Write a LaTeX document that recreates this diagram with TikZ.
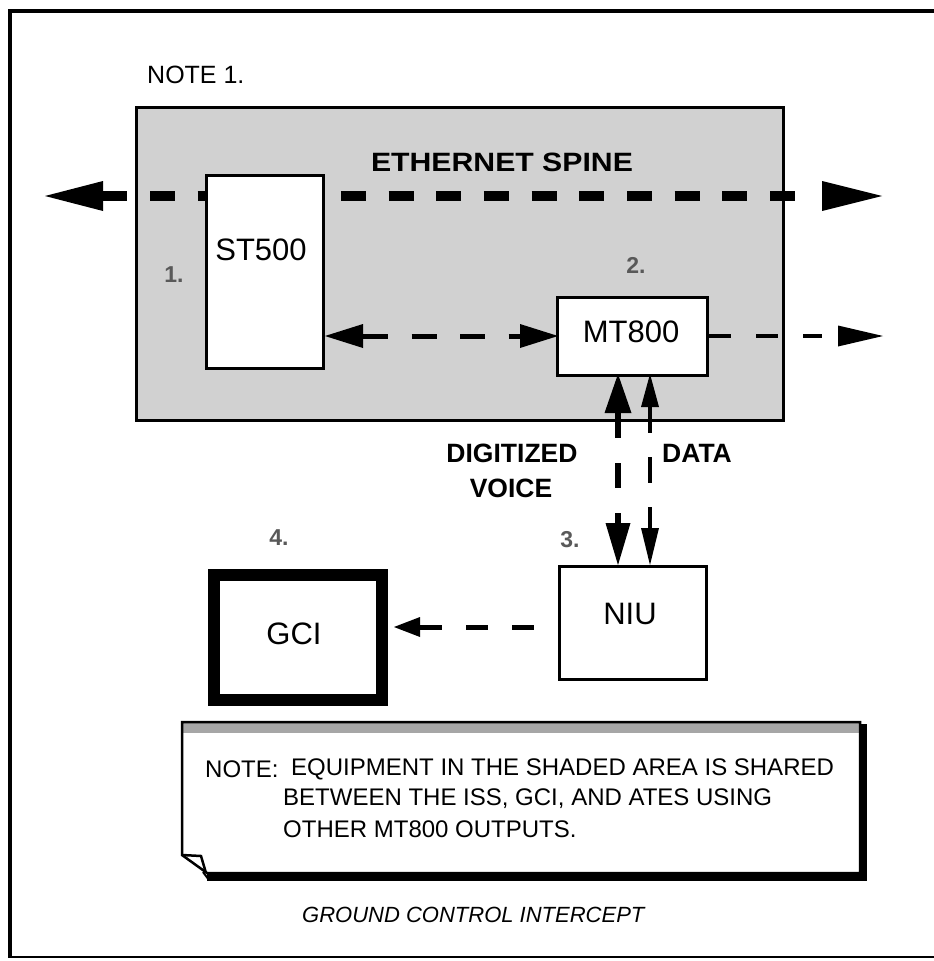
\documentclass[tikz,border=0pt]{standalone}
\usepackage{fontspec}
\setmainfont{Liberation Sans}
\usetikzlibrary{calc}
\begin{document}
\begin{tikzpicture}[x=1pt,y=-1pt,
  boxline/.style={draw=black,line width=3pt,fill=white},
  lbl/.style={inner sep=0pt,font=\fontsize{25}{28}\selectfont},
  blk/.style={inner sep=0pt,font=\fontsize{31}{34}\selectfont},
  bold/.style={inner sep=0pt,font=\fontsize{26.5}{30}\selectfont\bfseries},
  num/.style={inner sep=0pt,text=black!65,font=\fontsize{23}{25}\selectfont\bfseries},
  notetxt/.style={inner sep=0pt,anchor=west,font=\fontsize{24}{26}\selectfont},
  head/.style={fill=black},
]
\useasboundingbox (0,0) rectangle (934,961);
\fill[white] (0,0) rectangle (934,961);
% outer frame
\draw[line width=4pt] (934,11) -- (10,11) -- (10,958);
\draw[line width=2.5pt] (10,957) -- (934,957);

% shaded area
\node[draw=black,line width=3pt,fill=black!18,minimum width=647pt,minimum height=313pt,inner sep=0pt,anchor=north west] (shade) at (135,106) {};
\node[lbl,anchor=west] (note1) at (147,75) {NOTE 1.};
\node[bold] (eth) at (502,162) {\scalebox{1.14}[1]{ETHERNET SPINE}};

% ethernet spine
\coordinate (ethA) at (150,196);
\coordinate (ethB) at (798,196);
\draw[line width=10pt,dash pattern=on 25pt off 22.7pt] (ethA) -- (ethB);
\draw[line width=10pt] (103,196) -- (127,196);
\fill[head] (45,196) -- (103,181) -- (103,211) -- cycle;
\fill[head] (822,181) -- (882,196) -- (822,211) -- cycle;

% ST500
\node[boxline,minimum width=117pt,minimum height=193pt,anchor=north west] (st) at (205,174) {};
\node[blk] (sttxt) at (261,250) {ST500};
\node[num] (n1) at (174,275) {1.};

% MT800
\node[boxline,minimum width=150pt,minimum height=78pt,anchor=north west] (mt) at (556,296) {};
\node[blk] (mttxt) at (631,332) {MT800};
\node[num] (n2) at (636,265) {2.};

% ST500 <-> MT800
\coordinate (smA) at (363,336);
\coordinate (smB) at (520,336);
\draw[line width=5pt,dash pattern=on 25pt off 23.5pt] (smA) -- (smB);
\fill[head] (st.east |- smA) -- (363,324) -- (363,348) -- cycle;
\fill[head] (558,336) -- (520,324) -- (520,348) -- cycle;

% MT800 output
\coordinate (moA) at (mt.east |- smA);
\coordinate (moB) at (822,336);
\draw[line width=4pt,dash pattern=on 22pt off 25pt] (moA) -- (moB);
\fill[head] (838,325.5) -- (883,336) -- (838,346.5) -- cycle;

% NIU
\node[boxline,minimum width=147pt,minimum height=113pt,anchor=north west] (niu) at (558,565) {};
\node[blk] (niutxt) at (630,614) {NIU};
\node[num] (n3) at (570,540) {3.};

% GCI
\node[draw=black,line width=12pt,fill=white,minimum width=168pt,minimum height=125pt,inner sep=0pt,anchor=north west] (gci) at (208,569) {};
\node[blk] (gcitxt) at (294,634) {GCI};
\node[num] (n4) at (279,538) {4.};

% digitized voice vertical
\coordinate (vA) at (618,413);
\coordinate (vB) at (618,523);
\draw[line width=6pt,dash pattern=on 25pt off 25pt] (vA) -- (vB);
\fill[head] (618,374) -- (631.5,413) -- (604.5,413) -- cycle;
\fill[head] (618,565) -- (630.5,523) -- (605.5,523) -- cycle;

% data vertical
\coordinate (dA) at (650,407);
\coordinate (dB) at (650,528);
\draw[line width=3.5pt,dash pattern=on 26pt off 24pt] (dA) -- (dB);
\fill[head] (650,374) -- (659,407) -- (641,407) -- cycle;
\fill[head] (650,565) -- (659,528) -- (641,528) -- cycle;

\node[bold] (dig) at (512,453) {DIGITIZED};
\node[bold] (voice) at (511,488) {VOICE};
\node[bold,anchor=west] (data) at (662,453) {DATA};

% NIU -> GCI
\coordinate (ngA) at (420,627);
\coordinate (ngB) at (537,627);
\draw[line width=5pt,dash pattern=on 22pt off 24pt] (ngA) -- (ngB);
\fill[head] (gci.east |- ngA) ++(6,0) -- (420,617) -- (420,637) -- cycle;

% note box
\fill[white] (182,722) -- (860,722) -- (860,873) -- (207,873) -- (182,855) -- cycle;
\fill[black!35] (183,723) rectangle (859,733);
\draw[line width=2.5pt,line join=miter] (182,855) -- (182,722) -- (860,722) -- (860,873) -- (207,873) -- cycle;
\draw[line width=2.5pt] (182,855) -- (201,856) -- (206,873);
\draw[line width=7pt] (863,724) -- (863,877) -- (207,877);
\draw[line width=2pt] (203,872) -- (209,880);
\node[notetxt] (nt0) at (205,769) {NOTE:};
\node[notetxt] (nt1) at (291,769) {EQUIPMENT IN THE SHADED AREA IS SHARED};
\node[notetxt] (nt2) at (283,799) {BETWEEN THE ISS, GCI, AND ATES USING};
\node[notetxt] (nt3) at (283,829) {OTHER MT800 OUTPUTS.};

% caption
\node[inner sep=0pt,anchor=west,font=\fontsize{22}{24}\selectfont\itshape] (cap) at (302,915) {GROUND CONTROL INTERCEPT};
\end{tikzpicture}
\end{document}
